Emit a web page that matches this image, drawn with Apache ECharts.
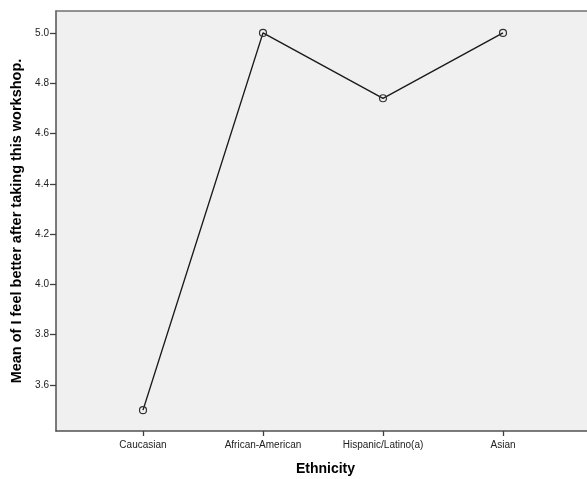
<!DOCTYPE html>
<html>
<head>
<meta charset="utf-8">
<script src="https://cdn.jsdelivr.net/npm/echarts@6/dist/echarts.min.js"></script>
<style>html,body{margin:0;padding:0;background:#fff;}#c{width:587px;height:479px;}</style>
</head>
<body>
<div id="c"></div>
<script>
const categories = ["Caucasian", "African-American", "Hispanic/Latino(a)", "Asian"];
const means = [3.50, 5.00, 4.74, 5.00];
const yTicks = [3.6, 3.8, 4.0, 4.2, 4.4, 4.6, 4.8, 5.0];
const yTitle = "Mean of I feel better after taking this workshop.";
const xTitle = "Ethnicity";

const chart = echarts.init(document.getElementById('c'), null, {renderer: 'canvas'});
chart.setOption({
  animation: false,
  grid: {left: 56, top: 11, right: 0, bottom: 48, show: true, backgroundColor: '#f0f0f0', borderWidth: 0, outerBoundsMode: 'none', containLabel: false},
  xAxis: [{
    type: 'value', min: -0.725, max: 3.7,
    name: xTitle, nameLocation: 'middle', nameGap: 31,
    nameTextStyle: {fontFamily: 'Liberation Sans', fontWeight: 'bold', fontSize: 14, color: '#000', padding: [0, 0, 0, 8]},
    splitLine: {show: false},
    axisLine: {show: true, onZero: false, lineStyle: {color: '#505050', width: 1.5}},
    axisTick: {show: true, length: 5, customValues: [0,1,2,3], lineStyle: {color: '#404040', width: 1.3}},
    axisLabel: {customValues: [0,1,2,3], formatter: v => categories[Math.round(v)] || '', fontFamily: 'Liberation Sans', fontSize: 10, color: '#222', margin: 9}
  }, {
    type: 'value', min: -0.725, max: 3.7, position: 'top',
    splitLine: {show: false},
    axisLine: {show: true, onZero: false, lineStyle: {color: '#707070', width: 1.5}},
    axisTick: {show: false}, axisLabel: {show: false}
  }],
  yAxis: {
    type: 'value', min: 3.417, max: 5.087,
    name: yTitle, nameLocation: 'middle', nameGap: 26.5,
    nameTextStyle: {fontFamily: 'Liberation Sans', fontWeight: 'bold', fontSize: 14.5, color: '#000'},
    splitLine: {show: false},
    axisLine: {show: true, onZero: false, lineStyle: {color: '#505050', width: 1.5}},
    axisTick: {show: true, length: 6, customValues: yTicks, lineStyle: {color: '#404040', width: 1.3}},
    axisLabel: {customValues: yTicks, formatter: v => v.toFixed(1), fontFamily: 'Liberation Sans', fontSize: 10, color: '#222', margin: 7}
  },
  series: [{
    type: 'line',
    data: means.map((v, i) => [i, v]),
    symbol: 'circle', symbolSize: 7,
    itemStyle: {color: 'transparent', borderColor: '#333', borderWidth: 1.2},
    lineStyle: {color: '#1a1a1a', width: 1.4}
  }]
});
</script>
</body>
</html>
